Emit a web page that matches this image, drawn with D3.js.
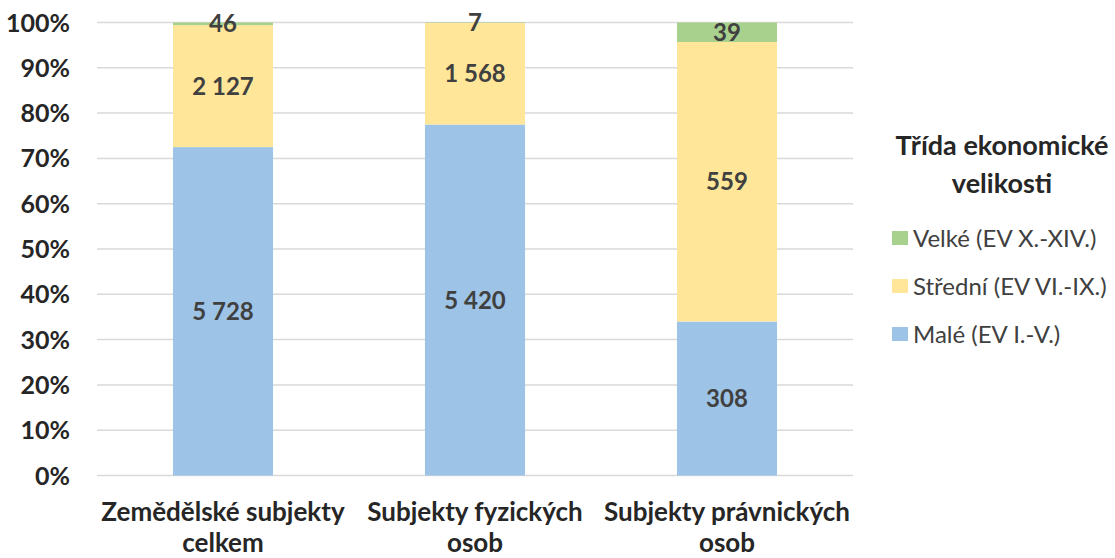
<!DOCTYPE html>
<html><head><meta charset="utf-8">
<script src="https://cdn.jsdelivr.net/npm/d3@7/dist/d3.min.js"></script>
<style>
html,body{margin:0;padding:0;background:#fff;}
svg{display:block;font-family:Lato, "Open Sans", sans-serif;}
</style></head>
<body><svg id="c" width="1115" height="558"></svg>
<script>
const categories = ["Zemědělské subjekty celkem", "Subjekty fyzických osob", "Subjekty právnických osob"];
const seriesNames = ["Malé (EV I.-V.)", "Střední (EV VI.-IX.)", "Velké (EV X.-XIV.)"];
const maleValues = [5728, 5420, 308];
const stredniValues = [2127, 1568, 559];
const velkeValues = [46, 7, 39];
const seriesColors = ["#9dc3e6", "#ffe699", "#a9d18e"];
const yTicks = [0, 0.1, 0.2, 0.3, 0.4, 0.5, 0.6, 0.7, 0.8, 0.9, 1];
const legendTitle = ["Třída ekonomické", "velikosti"];

const svg = d3.select("#c");
const x = d3.scaleBand().domain(categories).range([97, 853]).padding(0);
const y = d3.scaleLinear().domain([0, 1]).range([475.5, 22.5]);
const barW = x.bandwidth() * 0.397;
const fmt = d3.formatLocale({decimal: ",", thousands: " ", grouping: [3], currency: ["", ""]}).format(",d");

const rows = categories.map((c, i) => ({cat: c, "0": maleValues[i], "1": stredniValues[i], "2": velkeValues[i]}));
const stack = d3.stack().keys(["0", "1", "2"]).offset(d3.stackOffsetExpand);
const stacked = stack(rows);

// grid
svg.append("g").selectAll("line").data(yTicks).join("line")
  .attr("x1", 97).attr("x2", 853)
  .attr("y1", d => y(d)).attr("y2", d => y(d))
  .attr("stroke", "#d9d9d9").attr("stroke-width", 1.5);

// y axis
const yAxis = d3.axisLeft(y).tickValues(yTicks).tickFormat(d3.format(".0%")).tickSize(0).tickPadding(0);
const ya = svg.append("g").attr("transform", "translate(70,0)").call(yAxis);
ya.select(".domain").remove();
ya.selectAll("text").attr("font-family", "Lato").attr("font-size", 25).attr("font-weight", "bold").attr("fill", "#262626").attr("dy", "0.34em");

// bars
const layers = svg.append("g").selectAll("g").data(stacked).join("g").attr("fill", (d, i) => seriesColors[i]);
layers.selectAll("rect").data(d => d).join("rect")
  .attr("x", d => x(d.data.cat) + (x.bandwidth() - barW) / 2)
  .attr("width", barW)
  .attr("y", d => y(d[1]))
  .attr("height", d => y(d[0]) - y(d[1]));

// data labels
const lab = svg.append("g").selectAll("g").data(stacked).join("g");
lab.selectAll("text").data((d, si) => d.map((v, ci) => ({v, si, ci}))).join("text")
  .attr("x", d => x(d.v.data.cat) + x.bandwidth() / 2)
  .attr("y", d => (y(d.v[0]) + y(d.v[1])) / 2)
  .attr("dy", "0.36em")
  .attr("text-anchor", "middle")
  .attr("font-size", 24).attr("font-weight", "bold").attr("fill", "#404040")
  .text(d => fmt(d.v.data[String(d.si)]));

// category labels
const cl = svg.append("g").selectAll("text").data(categories).join("text")
  .attr("x", d => x(d) + x.bandwidth() / 2)
  .attr("y", 521)
  .attr("text-anchor", "middle")
  .attr("font-size", 26).attr("font-weight", "bold").attr("fill", "#262626");
cl.each(function(d) {
  const k = d.lastIndexOf(" ");
  const t = d3.select(this);
  t.append("tspan").attr("x", x(d) + x.bandwidth() / 2).text(d.slice(0, k));
  t.append("tspan").attr("x", x(d) + x.bandwidth() / 2).attr("dy", 31).text(d.slice(k + 1));
});

// legend
const lg = svg.append("g");
lg.selectAll("text.t").data(legendTitle).join("text").attr("class", "t")
  .attr("x", 1002).attr("y", (d, i) => 155 + i * 38)
  .attr("text-anchor", "middle").attr("font-size", 27).attr("font-weight", "bold").attr("fill", "#262626")
  .text(d => d);
const legendOrder = [2, 1, 0];
const li = lg.selectAll("g.i").data(legendOrder).join("g").attr("class", "i")
  .attr("transform", (d, i) => `translate(892,${238 + i * 48})`);
li.append("rect").attr("x", 0).attr("y", -7).attr("width", 16).attr("height", 14).attr("fill", d => seriesColors[d]);
li.append("text").attr("x", 21).attr("dy", "0.36em").attr("font-size", 24).attr("fill", "#404040").text(d => seriesNames[d]);
</script></body></html>
